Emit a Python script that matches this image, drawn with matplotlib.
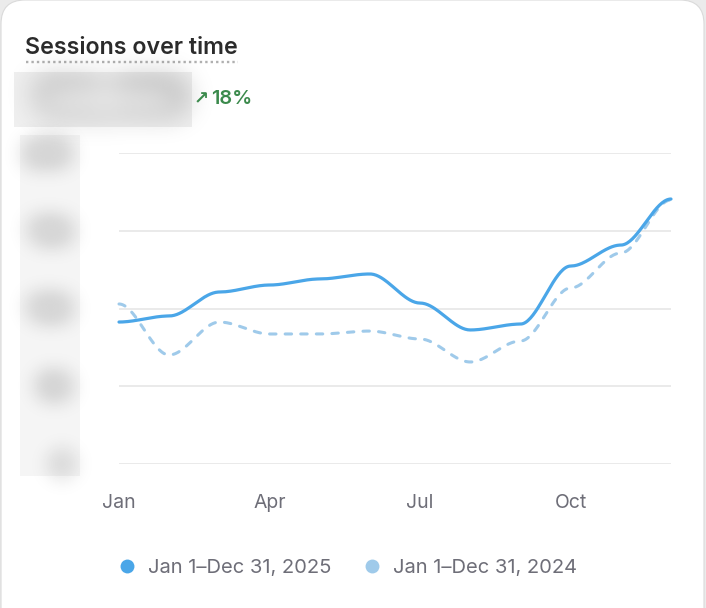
import numpy as np
import matplotlib
matplotlib.use("Agg")
import matplotlib.pyplot as plt
from matplotlib.patches import FancyBboxPatch, Rectangle
from matplotlib.lines import Line2D

plt.rcParams['font.family'] = ['Inter', 'DejaVu Sans']

# monthly sessions
months = ["Jan", "Feb", "Mar", "Apr", "May", "Jun", "Jul", "Aug", "Sep", "Oct", "Nov", "Dec"]
sessions_2025 = [9130, 9520, 11060, 11510, 11900, 12220, 10350, 8620, 9000, 12730, 14080, 17040]
sessions_2024 = [10290, 7010, 9130, 8360, 8360, 8550, 8040, 6560, 7910, 11320, 13570, 16980]
tick_months = ["Jan", "Apr", "Jul", "Oct"]
y_ticks = [0, 5000, 10000, 15000, 20000]
y_tick_labels = ["0", "5K", "10K", "15K", "20K"]
label_2025 = "Jan 1\u2013Dec 31, 2025"
label_2024 = "Jan 1\u2013Dec 31, 2024"
change = "18%"

c_now = "#4aa6e8"
c_prev = "#9fcaea"
c_text = "#6e6e78"

W, H = 706, 608


def bump(y, steps=40):
    # bumpX style curve: flat tangent at every monthly point
    y = np.asarray(y, float)
    xs, ys = [], []
    for i in range(len(y) - 1):
        t = np.linspace(0, 1, steps, endpoint=(i == len(y) - 2))
        s = 3 * t**2 - 2 * t**3
        xs.append(i + t)
        ys.append(y[i] + (y[i + 1] - y[i]) * s)
    return np.concatenate(xs), np.concatenate(ys)


def blur(img, dpi, s=6):
    p = 3 * s
    k = np.exp(-np.arange(-p, p + 1) ** 2 / (2.0 * s * s))
    k /= k.sum()
    a = np.pad(img, ((p, p), (p, p), (0, 0)))
    out = np.zeros_like(a)
    for i, w in enumerate(k):
        out += w * np.roll(a, i - p, axis=0)
    res = np.zeros_like(out)
    for i, w in enumerate(k):
        res += w * np.roll(out, i - p, axis=1)
    return res, -p, -p


def fx(px):
    return px / W


def fy(py):
    return 1 - py / H


fig = plt.figure(figsize=(W / 100, H / 100), dpi=100, facecolor="#ebebeb")

# card
card = FancyBboxPatch((0.01, -0.6), 7.03, 6.68, boxstyle="round,pad=0,rounding_size=0.24",
                      transform=fig.dpi_scale_trans, facecolor="white", edgecolor="#dadada", lw=0.8,
                      zorder=-10)
fig.patches.append(card)

# title
fig.text(fx(25), fy(54), "Sessions over time", fontsize=16.7, fontweight="semibold", color="#2b2b2b")
fig.add_artist(Line2D([fx(26), fx(238)], [fy(62), fy(62)], color="#b0b0b0", lw=1.7,
                      linestyle=(0, (1, 1.3))))

# blurred headline number
fig.patches.append(Rectangle((fx(14), fy(127)), fx(178), 55 / H, transform=fig.transFigure,
                             facecolor="#efefef", edgecolor="none", zorder=-5))
t = fig.text(fx(110), fy(100), "123,456", fontsize=26, fontweight="bold", color="#cfcfcf",
             ha="center", va="center")
t.set_agg_filter(lambda im, dpi: blur(im, dpi, 15))

fig.text(fx(194), fy(104), "\u2197", fontsize=13, fontweight="bold", color="#3b8a4c",
         family=["DejaVu Sans"])
fig.text(fx(211), fy(104), change, fontsize=14.3, fontweight="semibold", color="#3b8a4c")

# blurred y axis box
fig.patches.append(Rectangle((fx(20), fy(476)), fx(60), 341 / H, transform=fig.transFigure,
                             facecolor="#f5f5f5", edgecolor="none", zorder=-5))

ax = fig.add_axes([fx(119), fy(464), fx(552), 311 / H])
ax.set_facecolor("none")
x1, y1 = bump(sessions_2024)
x2, y2 = bump(sessions_2025)
ax.plot(x1, y1, color=c_prev, lw=2.2, linestyle=(0, (2.1, 3.0)), dash_capstyle="round",
        clip_on=False, zorder=3)
ax.plot(x2, y2, color=c_now, lw=2.3, solid_capstyle="round", clip_on=False, zorder=4)

ax.set_xlim(0, len(months) - 1)
ax.set_ylim(0, 20000)
ax.set_xticks([months.index(m) for m in tick_months])
ax.set_xticklabels(tick_months, fontsize=14, color=c_text)
ax.set_yticks(y_ticks)
ax.set_yticklabels(y_tick_labels, fontsize=15, fontweight="bold", color="#ececec")
ax.tick_params(axis="x", length=0, pad=21.5)
ax.tick_params(axis="y", length=0, pad=36)
for lab in ax.get_yticklabels():
    lab.set_agg_filter(lambda im, dpi: blur(im, dpi, 11))
ax.grid(axis="y", color="#e8e8e8", lw=1.3)
ax.set_axisbelow(True)
for sp in ax.spines.values():
    sp.set_visible(False)

handles = [Line2D([], [], marker="o", ls="none", markersize=10, color=c_now, markeredgewidth=0),
           Line2D([], [], marker="o", ls="none", markersize=10, color=c_prev, markeredgewidth=0)]
fig.legend(handles, [label_2025, label_2024], loc="center", bbox_to_anchor=(fx(347), fy(568)),
           ncol=2, frameon=False, fontsize=14.5, labelcolor=c_text, handletextpad=0.55,
           columnspacing=1.5, handlelength=1.0)

fig.savefig("out.png", dpi=100, facecolor=fig.get_facecolor())
